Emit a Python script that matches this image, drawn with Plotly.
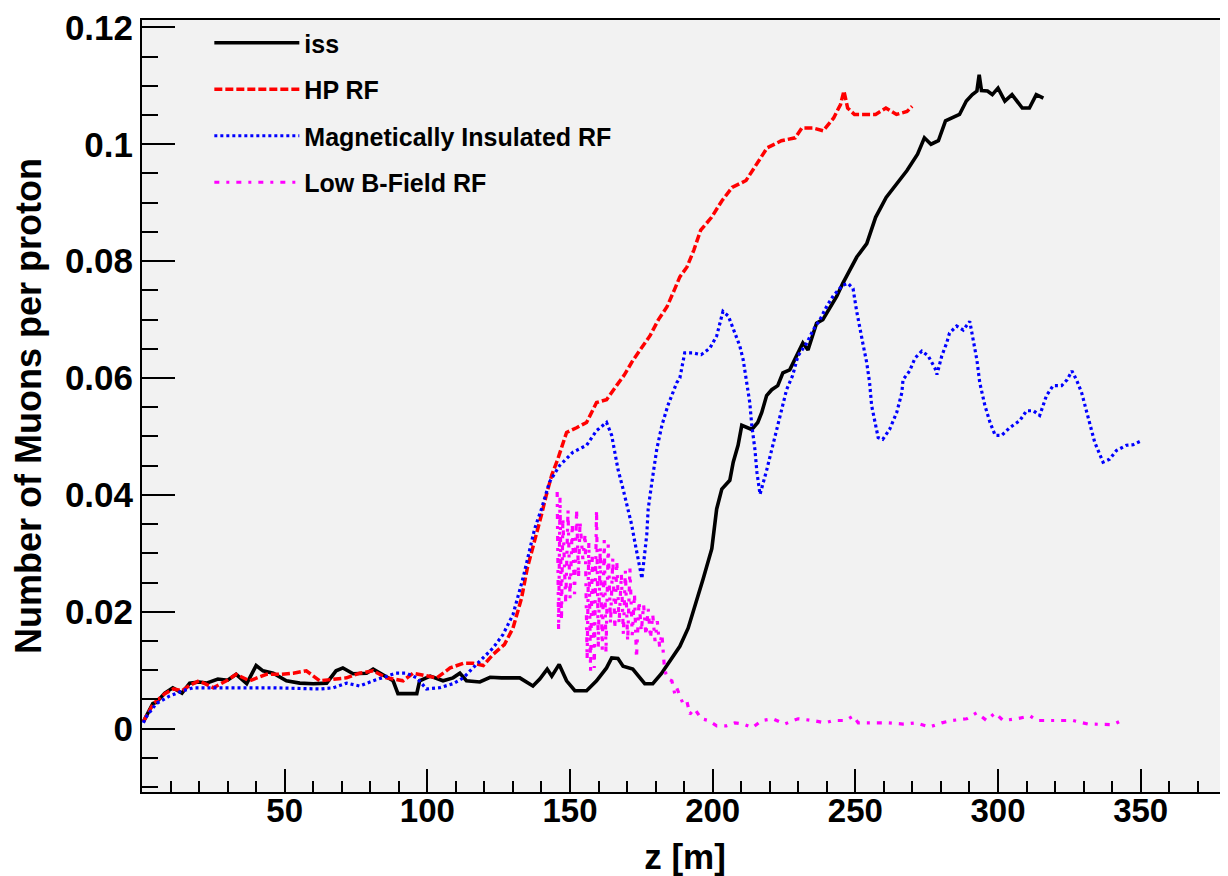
import plotly.graph_objects as go

# ---------------- data ----------------
iss_z = [0.5, 1, 3.8, 5, 8, 10.8, 14, 16.7, 20, 22.6, 26.6, 30, 33, 36.7, 40, 42.4, 46, 50.6, 55.3, 60,
         64.7, 68, 70.4, 74, 78.7, 81, 83.3, 88, 89.7, 93, 96.3, 97.3, 101, 105.5, 109, 111.4, 113.7, 118.4,
         122, 126, 132.4, 137, 139.4, 142, 143.6, 146.2, 148.8, 151.7, 155.8, 159.3, 162.8, 164.6, 166.8,
         168.6, 172, 176.2, 179, 182, 184.3, 188.5, 191.4, 194.4, 196.7, 199.7, 201.4, 203.2, 206, 207.2,
         208.9, 210.2, 213.7, 215.8, 217.2, 218.9, 220.7, 222.8, 224.6, 227, 229.4, 231.6, 233.4, 236.4,
         238.6, 241, 243.5, 245.6, 248, 250.5, 254, 257.1, 260.8, 264.4, 268.1, 271.8, 274.2, 276.5, 279.1,
         281.6, 284, 286.5, 288.9, 291, 292.6, 293.4, 294.2, 296.3, 298, 300, 302.4, 304.9, 308.5, 311,
         313.4, 315.9]
iss_v = [0.0012, 0.0017, 0.0043, 0.0045, 0.0061, 0.0070, 0.0061, 0.0078, 0.0080, 0.0078, 0.0085, 0.0083,
         0.0093, 0.0077, 0.0108, 0.0099, 0.0095, 0.0082, 0.0078, 0.0077, 0.0078, 0.0099, 0.0104, 0.0094,
         0.0095, 0.0102, 0.0095, 0.0082, 0.0060, 0.0060, 0.0060, 0.0082, 0.0090, 0.0082, 0.0087, 0.0095,
         0.0082, 0.0080, 0.0088, 0.0087, 0.0087, 0.0073, 0.0085, 0.0102, 0.0090, 0.0110, 0.0082, 0.0065,
         0.0065, 0.0082, 0.0104, 0.0121, 0.0120, 0.0107, 0.0102, 0.0077, 0.0077, 0.0094, 0.0110, 0.0141,
         0.0172, 0.0218, 0.0257, 0.0308, 0.0376, 0.0410, 0.0425, 0.0456, 0.0485, 0.0519, 0.0512, 0.0524,
         0.0541, 0.0570, 0.0580, 0.0587, 0.0609, 0.0614, 0.0638, 0.0660, 0.0648, 0.0694, 0.0700, 0.0720,
         0.0740, 0.0762, 0.0784, 0.0807, 0.0830, 0.0875, 0.0909, 0.0932, 0.0955, 0.0983, 0.1011, 0.1000,
         0.1006, 0.1040, 0.1045, 0.1051, 0.1074, 0.1085, 0.1091, 0.1119, 0.1092, 0.1091, 0.1085, 0.1096,
         0.1074, 0.1085, 0.1062, 0.1062, 0.1085, 0.1079]

hp_z = [0.5, 1, 4, 8, 11, 14, 17, 20, 25, 29.6, 33, 37.7, 43.6, 48.3, 53, 57.6, 62.3, 67, 71.7, 76.3, 81,
        85.7, 91.5, 95, 99.7, 103.3, 108, 112.6, 116, 119.6, 123, 127, 130, 133, 135, 137.6, 140, 141.7,
        143.6, 145.7, 148.8, 152.3, 155.8, 159.3, 162.8, 166.3, 169, 172, 175, 178, 181, 184, 186.5, 188.5,
        191, 193.4, 195.8, 199.6, 203.2, 206.8, 211.7, 215.4, 219.1, 224.1, 228.9, 231.3, 235, 238.7, 242.4,
        244.8, 246, 247.3, 249.7, 253.4, 257.1, 260.7, 264.4, 268.1, 269.9]
hp_v = [0.0012, 0.0017, 0.0043, 0.0060, 0.0068, 0.0065, 0.0075, 0.0082, 0.0070, 0.0082, 0.0093, 0.0082,
        0.0093, 0.0093, 0.0095, 0.0099, 0.0082, 0.0085, 0.0087, 0.0095, 0.0099, 0.0087, 0.0082, 0.0095,
        0.0090, 0.0087, 0.0104, 0.0112, 0.0112, 0.0108, 0.0127, 0.0144, 0.0172, 0.0223, 0.0274, 0.0320,
        0.0366, 0.0400, 0.0434, 0.0461, 0.0507, 0.0515, 0.0524, 0.0558, 0.0563, 0.0587, 0.0605, 0.0630,
        0.0652, 0.0672, 0.0700, 0.0722, 0.0750, 0.0773, 0.0790, 0.0819, 0.0853, 0.0875, 0.0903, 0.0926,
        0.0938, 0.0966, 0.0994, 0.1006, 0.1011, 0.1028, 0.1028, 0.1023, 0.1045, 0.1068, 0.1091, 0.1062,
        0.1051, 0.1051, 0.1051, 0.1062, 0.1051, 0.1056, 0.1065]

mi_z = [0.5, 1, 5, 9.7, 14.3, 18, 28.3, 46, 62.3, 67, 71.7, 76.3, 81, 85.7, 89, 92.7, 96.3, 99.7, 104.3,
        109, 112.6, 116, 119.6, 123, 126.5, 130, 133.5, 136, 137.6, 140, 142.8, 146.3, 151, 155.8, 159.3,
        162.8, 164.6, 165.7, 166.8, 168.6, 170.4, 171.6, 172.7, 174.5, 175.2, 176.9, 177.4, 178.7, 180.4,
        182.2, 184.3, 187.4, 188.5, 190.2, 193, 196, 199, 201.4, 203.6, 205.5, 207.8, 209.5, 210.7, 212,
        213, 213.7, 214.8, 215.5, 216.6, 218.9, 220.7, 222.4, 224.2, 225.9, 228, 229.9, 233, 235.2, 237.6,
        240, 242.3, 245.6, 247.4, 249.2, 250.4, 251.6, 252.6, 254, 255, 255.7, 256.8, 258, 259.6, 262,
        264.5, 266.3, 266.7, 269, 270.9, 273.3, 275.5, 277.9, 278.6, 280.3, 282, 283, 285.5, 287.8, 290.1,
        291.2, 292.6, 293.6, 294.3, 295.4, 297.2, 299, 301.3, 304.1, 307.6, 310, 312.4, 314.6, 317, 319.3,
        322.3, 324.2, 325.9, 327.5, 329.3, 330.4, 331.6, 332.7, 333.9, 335.6, 336.8, 339.1, 341.5, 345,
        347.4, 350.4]
mi_v = [0.0010, 0.0017, 0.0043, 0.0056, 0.0065, 0.0070, 0.0070, 0.0070, 0.0068, 0.0070, 0.0078, 0.0073,
        0.0082, 0.0090, 0.0095, 0.0095, 0.0087, 0.0068, 0.0070, 0.0077, 0.0087, 0.0104, 0.0121, 0.0138,
        0.0161, 0.0195, 0.0257, 0.0308, 0.0342, 0.0376, 0.0422, 0.0450, 0.0473, 0.0485, 0.0510, 0.0524,
        0.0502, 0.0473, 0.0444, 0.0410, 0.0376, 0.0349, 0.0320, 0.0274, 0.0257, 0.0332, 0.0376, 0.0422,
        0.0478, 0.0519, 0.0553, 0.0592, 0.0600, 0.0643, 0.0643, 0.0640, 0.0651, 0.0672, 0.0714, 0.0706,
        0.0677, 0.0655, 0.0631, 0.0592, 0.0558, 0.0519, 0.0478, 0.0439, 0.0401, 0.0442, 0.0478, 0.0512,
        0.0546, 0.0580, 0.0604, 0.0638, 0.0660, 0.0682, 0.0700, 0.0723, 0.0741, 0.0759, 0.0762, 0.0753,
        0.0716, 0.0689, 0.0660, 0.0626, 0.0592, 0.0553, 0.0524, 0.0498, 0.0495, 0.0512, 0.0541, 0.0575,
        0.0597, 0.0612, 0.0634, 0.0646, 0.0638, 0.0617, 0.0606, 0.0638, 0.0660, 0.0677, 0.0689, 0.0682,
        0.0697, 0.0665, 0.0631, 0.0592, 0.0575, 0.0553, 0.0524, 0.0502, 0.0502, 0.0515, 0.0527, 0.0544,
        0.0544, 0.0536, 0.0570, 0.0587, 0.0587, 0.0597, 0.0612, 0.0597, 0.0575, 0.0553, 0.0529, 0.0512,
        0.0490, 0.0468, 0.0456, 0.0461, 0.0476, 0.0485, 0.0486, 0.0493]

lowb_z = [145.5, 146.0, 146.5, 147.0, 147.5, 148.5, 149.3, 150.0, 150.8, 151.6, 152.3, 153.0, 153.5, 154.5,
          155.3, 156.0, 156.6, 157.2, 157.8, 158.5, 159.3, 159.9, 160.6, 161.3, 162.0, 162.6, 163.4, 164.2,
          165.0, 165.7, 166.4, 167.2, 168.0, 168.7, 169.4, 170.2, 171.0, 171.8, 172.6, 173.3, 174.2, 175.0,
          175.8, 176.6, 177.4, 178.2, 179.0, 179.8, 180.6, 181.4, 182.2, 183.0, 183.6, 184.5, 185.7, 186.7,
          187.4, 188.5, 189.5, 190.9, 192.0, 193.7, 196.0, 198.5, 201.4, 204.8, 207.7, 210.7, 214, 217.2,
          221, 225.2, 229.9, 235.2, 239.4, 242.3, 246.5, 249.3, 251, 256.9, 261.4, 266.7, 271.3, 276, 280.3,
          283.8, 289, 292.5, 296, 299, 301.8, 306.6, 311.2, 313.6, 318.2, 322.4, 326.3, 331.5, 336.3, 340.3,
          343.3]
lowb_v = [0.0405, 0.0170, 0.0395, 0.0185, 0.0360, 0.0215, 0.0374, 0.0223, 0.0350, 0.0230, 0.0374, 0.0260,
          0.0354, 0.0290, 0.0333, 0.0120, 0.0318, 0.0099, 0.0300, 0.0104, 0.0374, 0.0140, 0.0310, 0.0135,
          0.0323, 0.0131, 0.0315, 0.0180, 0.0292, 0.0172, 0.0286, 0.0180, 0.0264, 0.0162, 0.0270, 0.0150,
          0.0274, 0.0160, 0.0230, 0.0121, 0.0218, 0.0167, 0.0212, 0.0160, 0.0205, 0.0155, 0.0195, 0.0150,
          0.0184, 0.0140, 0.0162, 0.0110, 0.0094, 0.0085, 0.0082, 0.0060, 0.0070, 0.0055, 0.0044, 0.0048,
          0.0025, 0.0034, 0.0017, 0.0014, 0.0005, 0.0005, 0.0010, 0.0008, 0.0002, 0.0014, 0.0017, 0.0008,
          0.0017, 0.0014, 0.0010, 0.0014, 0.0014, 0.0022, 0.0010, 0.0010, 0.0010, 0.0008, 0.0010, 0.0003,
          0.0010, 0.0014, 0.0017, 0.0027, 0.0014, 0.0027, 0.0014, 0.0017, 0.0022, 0.0014, 0.0014, 0.0014,
          0.0014, 0.0008, 0.0008, 0.0007, 0.0014]

series_names = ["iss", "HP RF", "Magnetically Insulated RF", "Low B-Field RF"]
x_tick_vals = [50, 100, 150, 200, 250, 300, 350]
y_tick_vals = [0, 0.02, 0.04, 0.06, 0.08, 0.1, 0.12]
y_tick_text = ["0", "0.02", "0.04", "0.06", "0.08", "0.1", "0.12"]

# ---------------- figure ----------------
FONT = "Liberation Sans, Arial, Helvetica, sans-serif"

styles = [
    dict(color="#000000", width=3.6, dash="solid"),
    dict(color="#ff0000", width=3.5, dash="8px,3px"),
    dict(color="#0000ff", width=3.2, dash="3px,3px"),
    dict(color="#ff00ff", width=3.2, dash="5px,7px,3px,7px"),
]
data = [(iss_z, iss_v), (hp_z, hp_v), (mi_z, mi_v), (lowb_z, lowb_v)]

fig = go.Figure()
for i, ((zs, vs), name, st) in enumerate(zip(data, series_names, styles)):
    fig.add_trace(go.Scatter(
        x=zs, y=vs, mode="lines", name=name, legendgroup=f"g{i}",
        line=dict(color=st["color"], width=st["width"], dash=st["dash"]),
    ))

# page body has an 8px margin: figure is sized/offset so the frame lands where the reference has it
fig.update_layout(
    width=1220, height=868,
    margin=dict(l=134, r=0, t=7, b=84),
    paper_bgcolor="white",
    plot_bgcolor="#f2f2f2",
    font=dict(family=FONT, size=25, color="black", weight="bold"),
    showlegend=True,
    legend=dict(
        x=0.062, y=1.0, xanchor="left", yanchor="top",
        bgcolor="rgba(0,0,0,0)", borderwidth=0,
        font=dict(family=FONT, size=25, color="black", weight="bold"),
        tracegroupgap=11, traceorder="grouped", itemwidth=85,
    ),
)

fig.update_xaxes(
    range=[0, 380.6], showgrid=False, zeroline=False,
    showline=True, linecolor="black", linewidth=2, mirror=True,
    ticks="inside", ticklen=23, tickwidth=1.5, tickcolor="black",
    tickmode="array", tickvals=x_tick_vals, ticktext=[str(v) for v in x_tick_vals],
    tickfont=dict(family=FONT, size=33, color="black", weight="bold"),
    ticklabelstandoff=-12, ticklabeloverflow="allow",
    minor=dict(tickmode="linear", tick0=0, dtick=10, ticks="inside", ticklen=11,
               tickwidth=1.5, tickcolor="black", showgrid=False),
    title=dict(text="z [m]", standoff=17,
               font=dict(family=FONT, size=35, color="black", weight="bold")),
)
fig.update_yaxes(
    range=[-0.01083, 0.12126], showgrid=False, zeroline=False,
    showline=True, linecolor="black", linewidth=2, mirror=False,
    ticks="inside", ticklen=33, tickwidth=1.5, tickcolor="black",
    tickmode="array", tickvals=y_tick_vals, ticktext=y_tick_text,
    tickfont=dict(family=FONT, size=35, color="black", weight="bold"),
    ticklabeloverflow="allow",
    minor=dict(tickmode="linear", tick0=0, dtick=0.005, ticks="inside", ticklen=16,
               tickwidth=1.5, tickcolor="black", showgrid=False),
    title=dict(text="Number of Muons per proton", standoff=19,
               font=dict(family=FONT, size=36, color="black", weight="bold")),
)

fig.write_html("out.html")
